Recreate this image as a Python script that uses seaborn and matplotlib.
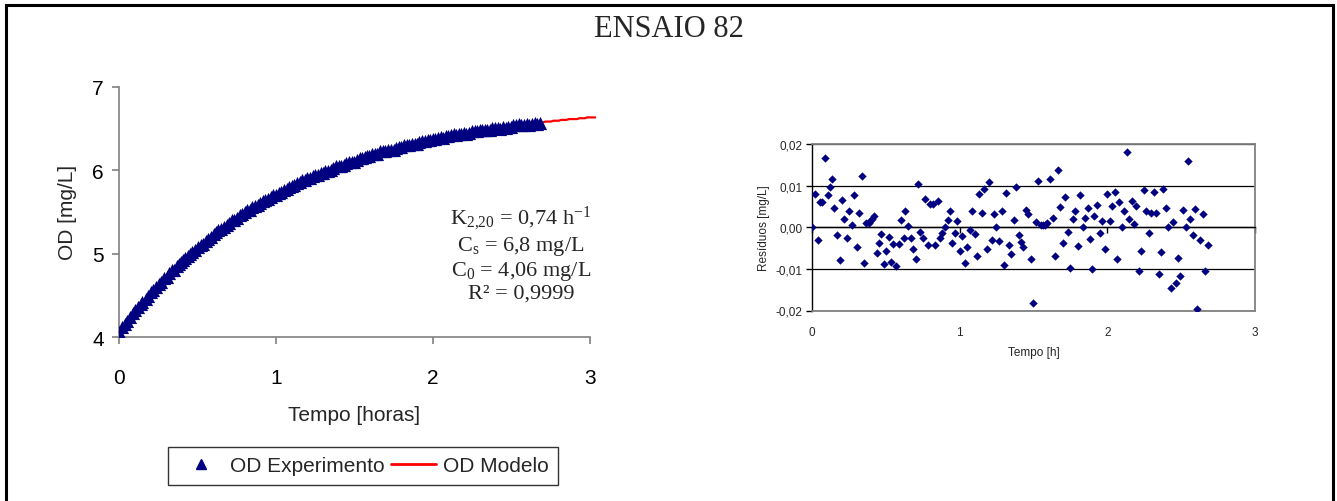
import numpy as np
import pandas as pd
import matplotlib
matplotlib.use("Agg")
import matplotlib.pyplot as plt
from matplotlib.lines import Line2D
from matplotlib.patches import Rectangle
import seaborn as sns

# Tempo de cada leitura [h] e resíduo observado - modelo [mg/L]
tempo_h = [0.000, 0.021, 0.040, 0.051, 0.070, 0.086, 0.105, 0.121, 0.138, 0.149,
           0.170, 0.187, 0.203, 0.219, 0.238, 0.252, 0.268, 0.287, 0.303, 0.320,
           0.336, 0.350, 0.367, 0.383, 0.395, 0.409, 0.423, 0.439, 0.451, 0.467,
           0.486, 0.504, 0.521, 0.532, 0.551, 0.570, 0.586, 0.605, 0.621, 0.633,
           0.651, 0.670, 0.686, 0.703, 0.719, 0.733, 0.752, 0.768, 0.785, 0.801,
           0.817, 0.834, 0.850, 0.869, 0.883, 0.901, 0.918, 0.932, 0.950, 0.967,
           0.983, 1.000, 1.016, 1.035, 1.051, 1.067, 1.084, 1.102, 1.116, 1.132,
           1.151, 1.167, 1.184, 1.200, 1.216, 1.233, 1.249, 1.268, 1.284, 1.301,
           1.312, 1.331, 1.350, 1.366, 1.382, 1.401, 1.415, 1.431, 1.448, 1.466,
           1.483, 1.497, 1.515, 1.532, 1.548, 1.564, 1.580, 1.592, 1.613, 1.630,
           1.646, 1.665, 1.681, 1.697, 1.714, 1.732, 1.749, 1.765, 1.781, 1.798,
           1.816, 1.832, 1.848, 1.866, 1.883, 1.898, 1.913, 1.932, 1.949, 1.966,
           1.983, 1.999, 2.015, 2.031, 2.050, 2.066, 2.080, 2.097, 2.115, 2.131,
           2.148, 2.164, 2.178, 2.197, 2.213, 2.230, 2.246, 2.265, 2.281, 2.298,
           2.314, 2.330, 2.347, 2.363, 2.377, 2.396, 2.412, 2.428, 2.447, 2.463,
           2.480, 2.494, 2.512, 2.531, 2.545, 2.559, 2.578, 2.596, 2.610, 2.629,
           2.648, 2.662, 2.681]

residuos = [0.0000, 0.0081, -0.0030, 0.0061, 0.0061, 0.0166, 0.0077, 0.0096, 0.0117, 0.0047,
            -0.0018, -0.0078, 0.0066, 0.0019, -0.0025, 0.0038, 0.0005, 0.0077, -0.0048, 0.0035,
            0.0122, -0.0086, 0.0010, 0.0010, 0.0015, 0.0020, 0.0026, -0.0061, -0.0039, -0.0017,
            -0.0089, -0.0058, -0.0023, -0.0083, -0.0040, -0.0092, -0.0040, 0.0017, -0.0025, 0.0038,
            0.0004, -0.0027, -0.0052, -0.0077, 0.0103, -0.0012, -0.0026, 0.0067, -0.0042, 0.0056,
            0.0056, -0.0042, 0.0064, -0.0027, -0.0015, 0.0000, 0.0017, 0.0038, -0.0039, -0.0014,
            0.0014, -0.0057, -0.0022, -0.0085, -0.0048, -0.0006, 0.0038, -0.0017, -0.0069, 0.0081,
            0.0035, 0.0091, -0.0052, 0.0108, -0.0030, 0.0033, 0.0000, -0.0034, 0.0038, -0.0091,
            0.0083, -0.0042, -0.0064, 0.0017, 0.0097, -0.0018, -0.0035, -0.0048, 0.0042, 0.0031,
            -0.0077, -0.0182, 0.0013, 0.0110, 0.0006, 0.0006, 0.0006, 0.0010, 0.0117, 0.0023,
            -0.0070, 0.0138, 0.0048, -0.0039, 0.0073, -0.0012, -0.0097, 0.0019, 0.0038, -0.0044,
            0.0077, 0.0000, 0.0023, 0.0046, -0.0029, -0.0101, 0.0027, 0.0054, -0.0014, 0.0014,
            -0.0052, 0.0081, 0.0014, 0.0050, 0.0085, -0.0077, 0.0061, 0.0000, 0.0039, 0.0180,
            0.0021, 0.0064, 0.0008, 0.0052, -0.0104, -0.0058, 0.0089, 0.0039, -0.0014, 0.0035,
            0.0085, 0.0035, -0.0112, -0.0060, 0.0093, 0.0046, 0.0000, -0.0145, 0.0013, -0.0133,
            -0.0074, -0.0117, 0.0042, 0.0000, 0.0159, 0.0021, -0.0018, 0.0043, -0.0197, -0.0031,
            0.0031, -0.0106, -0.0042]

assert len(tempo_h) == len(residuos)

# Parâmetros do ajuste de reaeração
K2_20 = 0.74      # h^-1 a 20 °C
CS = 6.8          # mg/L
C0 = 4.06         # mg/L
R2 = 0.9999
THETA = 1.024
T_ENSAIO = 29.3   # °C
K_T = K2_20 * THETA ** (T_ENSAIO - 20.0)

# Instantes do modelo (1 min) até o fim do eixo
tempo_modelo_min = list(range(0, 183))

x_ticks_main = [0, 1, 2, 3]
y_ticks_main = [4, 5, 6, 7]
x_ticks_res = [0, 1, 2, 3]
y_ticks_res = [-0.02, -0.01, 0.00, 0.01, 0.02]


def modelo(t):
    t = np.asarray(t, dtype=float)
    return CS - (CS - C0) * np.exp(-K_T * t)


t_exp = np.asarray(tempo_h)
df_exp = pd.DataFrame({"t": t_exp, "od": modelo(t_exp) + np.asarray(residuos),
                       "res": residuos})
t_mod = np.asarray(tempo_modelo_min) / 60.0
df_mod = pd.DataFrame({"t": t_mod, "od": np.round(modelo(t_mod), 2)})

sns.set_theme(style="white")
plt.rcParams["font.family"] = ["Liberation Sans", "DejaVu Sans"]
plt.rcParams["mathtext.fontset"] = "custom"
plt.rcParams["mathtext.rm"] = "Liberation Serif"

NAVY = "#000080"
GREY = "#808080"

fig = plt.figure(figsize=(13.37, 5.02), dpi=100)
fig.patch.set_facecolor("white")

# moldura externa
fig.add_artist(Rectangle((5.5 / 1337, -0.05), 1327 / 1337, 1.0 - 5.5 / 502 + 0.05,
                         transform=fig.transFigure, fill=False, edgecolor="black",
                         linewidth=2.2))

fig.text(0.5, 1 - 30 / 502, "ENSAIO 82", ha="center", va="center",
         fontsize=22, family="Liberation Serif")

# ---- curva de oxigênio dissolvido ----
ax = fig.add_axes([119 / 1337, (502 - 338) / 502, 471 / 1337, 250.5 / 502])
sns.lineplot(data=df_mod, x="t", y="od", ax=ax, color="#ff0000", linewidth=1.6,
             clip_on=False, zorder=2)
sns.scatterplot(data=df_exp, x="t", y="od", ax=ax, marker="^", s=90, color=NAVY,
                linewidth=0, zorder=3)
ax.set_xlim(0, 3)
ax.set_ylim(4, 7)
ax.set_xticks(x_ticks_main)
ax.set_yticks(y_ticks_main)
for side in ("top", "right"):
    ax.spines[side].set_visible(False)
for side in ("left", "bottom"):
    ax.spines[side].set_color(GREY)
    ax.spines[side].set_linewidth(1.2)
ax.tick_params(axis="y", direction="out", length=5, width=1.2, color=GREY,
               labelsize=15, labelcolor="black", pad=6, left=True)
ax.tick_params(axis="x", direction="out", length=5, width=1.2, color=GREY,
               labelsize=15, labelcolor="black", pad=17, bottom=True)
ax.set_xlabel("Tempo [horas]", fontsize=15, labelpad=13)
ax.set_ylabel("OD [mg/L]", fontsize=15, labelpad=11)

txt = ("K$\\mathregular{_{2{,}20}}$ = 0,74 h$\\mathregular{^{-1}}$\n"
       "C$\\mathregular{_{s}}$ = 6,8 mg/L\n"
       "C$\\mathregular{_{0}}$ = 4,06 mg/L\n"
       "R² = 0,9999")
ax.text(2.56, 5.0, txt, ha="center", va="center", family="Liberation Serif",
        fontsize=16, linespacing=1.12, multialignment="center")

# ---- resíduos ----
axr = fig.add_axes([812 / 1337, (502 - 311.5) / 502, 443 / 1337, 166.5 / 502])
sns.scatterplot(data=df_exp, x="t", y="res", ax=axr, marker="D", s=18, color=NAVY,
                linewidth=0, zorder=4)
axr.set_xlim(0, 3)
axr.set_ylim(-0.02, 0.02)
axr.set_xticks(x_ticks_res)
axr.set_yticks(y_ticks_res)
axr.set_yticklabels([f"{v:.2f}".replace(".", ",") for v in y_ticks_res])
axr.set_xticklabels([str(v) for v in x_ticks_res])
axr.yaxis.grid(True, color="black", linewidth=0.9)
axr.set_axisbelow(True)
axr.spines["bottom"].set_position(("data", 0))
axr.spines["bottom"].set_color("black")
axr.spines["bottom"].set_linewidth(1.0)
axr.spines["left"].set_color("black")
axr.spines["left"].set_linewidth(1.0)
for side in ("top", "right"):
    axr.spines[side].set_color(GREY)
    axr.spines[side].set_linewidth(1.3)
axr.axhline(-0.02, color=GREY, linewidth=1.3, zorder=2.6, clip_on=False)
axr.tick_params(axis="y", direction="out", length=4, width=1.0, color="black",
                labelsize=8.5, pad=3, left=True)
axr.tick_params(axis="x", direction="out", length=4, width=1.0, color="black",
                labelsize=8.5, pad=67, bottom=True)
axr.set_xlabel("Tempo [h]", fontsize=8.5, labelpad=6)
axr.set_ylabel("Resíduos [mg/L]", fontsize=8.5, labelpad=4)

# ---- legenda ----
handles = [Line2D([], [], linestyle="none", marker="^", markersize=7, color=NAVY),
           Line2D([], [], color="#ff0000", linewidth=2)]
leg = fig.legend(handles, ["OD Experimento", "OD Modelo"], loc="center",
                 bbox_to_anchor=(363 / 1337, 35 / 502), ncol=2, fontsize=15,
                 frameon=True, fancybox=False, edgecolor="black", borderpad=0.45,
                 handlelength=2.2, handletextpad=0.3, columnspacing=0.3)
leg.get_frame().set_linewidth(1.0)

fig.savefig("out.png", dpi=100, facecolor="white")
